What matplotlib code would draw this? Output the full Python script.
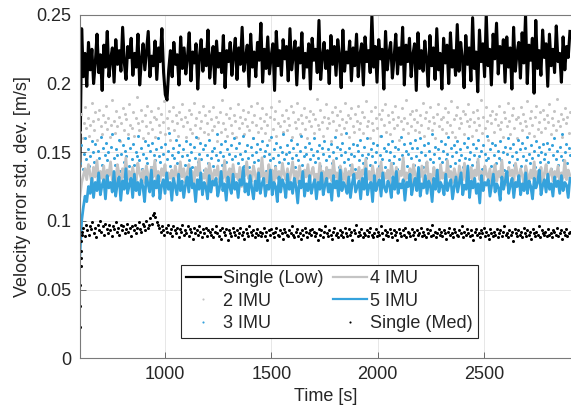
import numpy as np
import matplotlib
matplotlib.use('Agg')
import matplotlib.pyplot as plt
from matplotlib.ticker import FormatStrFormatter

# values in units of 1e-3 m/s
t_start, t_end = 600, 2905

single_low = [140, 240, 205, 222, 198, 230, 210, 225, 200, 215, 236, 208, 221, 195, 228, 212, 238, 205, 218, 226,
              201, 232, 214, 224, 209, 241, 215, 203, 227, 219, 233, 206, 222, 212, 236, 199, 217, 229, 210, 224,
              238, 205, 220, 213, 231, 203, 226, 216, 240, 208,
              192, 188, 210, 224, 205, 230, 214, 221, 199, 234, 211, 226, 207, 219, 237, 202, 223, 215, 229, 196,
              220, 232, 209, 225, 213, 239, 204, 218, 227, 200, 231, 212, 222, 208, 235, 197, 224, 216, 230, 206,
              221, 233, 203, 226, 214, 241, 209, 219, 228, 198, 236, 212, 223, 205, 230, 217, 244, 201, 225, 211,
              234, 207, 220, 229, 195, 238, 213, 224, 206, 232, 218, 227, 202, 240, 210, 221, 231, 199, 226, 215,
              237, 204, 222, 212, 229, 196, 233, 217, 225, 208, 246, 203, 219, 230, 211, 224, 200, 235, 214, 227,
              206, 232, 220, 197, 239, 209, 223, 215, 231, 202, 226, 213, 236, 205, 221, 229, 199, 234, 216, 224,
              208, 250, 212, 227, 201, 232, 218, 225, 196, 238, 210, 222, 230, 204, 219, 236, 207, 226, 214, 241,
              199, 228, 216, 233, 205, 221, 229, 195, 237, 211, 224, 209, 231, 217, 198, 235, 213, 226, 203, 240,
              210, 222, 196, 233, 215, 228, 200, 237, 212, 224, 206, 243, 209, 230, 218, 197, 235, 214, 226, 202,
              248, 211, 223, 194, 239, 216, 229, 205, 250, 213, 225, 199, 236, 218, 244, 207, 227, 215, 232, 201,
              234, 212, 226, 196, 241, 209, 222, 230, 204, 237, 215, 250, 200, 228, 217, 233, 193, 246, 211, 224,
              206, 239, 219, 229, 198, 236, 213, 225, 208, 242, 216, 222, 201, 234, 210, 227, 219, 238]

imu2 = [165, 178, 160, 171, 183, 168, 175, 162, 170, 186, 173, 166, 179, 159, 174, 181, 169, 163, 177, 172,
        184, 167, 175, 161, 170, 188, 173, 164, 180, 169, 176, 158, 171, 182, 166, 178, 174, 163, 185, 170,
        168, 179, 162, 175, 190, 171, 166, 181, 173, 160, 177, 169, 184, 164, 172, 180, 167, 176, 161, 174,
        182, 170, 165, 178, 172, 187, 163, 175, 168, 180, 159, 173, 183, 166, 177, 171, 162, 179, 174, 185,
        169, 176, 161, 172, 181, 167, 178, 164, 186, 170, 175, 160, 179, 168, 173, 184, 165, 177, 171, 163,
        180, 174, 166, 183, 169, 176, 158, 172, 179, 165, 188, 171, 167, 178, 162, 175, 182, 170, 164, 177,
        173, 161, 185, 168, 176, 171, 181, 163, 174, 169, 179, 166, 184, 172, 160, 177, 170, 186, 165, 175,
        168, 182, 173, 164, 178, 170, 159, 176, 183, 167, 174, 180, 162, 171, 187, 169, 177, 165, 173, 181,
        166, 175, 170, 184, 161, 179, 172, 168, 186, 174, 163, 177, 171, 182, 167, 176, 160, 173, 180, 169,
        178, 164, 174, 189, 170, 167, 181, 172, 162, 176, 185, 168, 175, 171, 158, 179, 173, 183, 166, 177,
        170, 180, 163, 174, 168, 186, 172, 177, 161, 175, 182, 169, 165, 178, 173, 184, 167, 171, 179, 164,
        176, 187, 169, 173, 160, 180, 171, 166, 183, 175, 168, 178, 162, 174, 181, 170, 185, 165, 177, 172,
        163, 179, 174, 168, 184, 170, 176, 159, 173, 182, 167, 175, 188, 171, 164, 178, 169, 180, 174, 166,
        181, 172, 165, 177, 170, 186, 162, 175, 179, 168, 173, 183, 166, 176, 171, 160, 178, 185, 169, 174,
        167, 176, 182, 164, 172, 179, 170, 187, 165, 174, 161, 177, 183, 168, 175, 171, 180, 163, 178, 173,
        185, 169, 174, 162, 179, 172, 166, 181, 175, 170, 188, 164, 176, 168, 183, 173, 159, 177, 171, 180,
        165, 174, 178, 170, 184, 167, 172, 161, 179, 175, 169, 186, 173, 163, 177, 182, 168, 174, 160, 176,
        171, 183, 166, 178, 173, 169, 187, 164, 175, 180, 170, 162, 176, 184, 167, 172, 179, 165, 181, 174,
        168, 177, 172, 185, 163, 175, 170, 180, 166, 189, 173, 169, 178, 161, 174, 182, 171, 176, 164, 179]

imu3 = [142, 155, 138, 149, 160, 145, 152, 140, 147, 158, 150, 143, 156, 137, 151, 146, 161, 141, 153, 148,
        157, 144, 150, 139, 154, 163, 146, 141, 152, 148, 159, 136, 149, 155, 143, 151, 147, 160, 140, 153,
        145, 156, 141, 150, 147, 162, 144, 153, 138, 149, 158, 146, 142, 155, 151, 139, 157, 148, 144, 152,
        160, 147, 143, 154, 149, 137, 156, 145, 151, 164, 140, 148, 153, 146, 159, 142, 150, 155, 138, 147,
        152, 141, 158, 148, 144, 156, 150, 139, 154, 146, 161, 143, 149, 157, 145, 152, 137, 155, 148, 142,
        159, 146, 151, 140, 153, 148, 163, 144, 150, 156, 141, 147, 158, 143, 152, 149, 138, 155, 145, 160,
        147, 153, 142, 157, 149, 145, 162, 140, 151, 155, 146, 139, 154, 148, 160, 143, 150, 156, 144, 152,
        141, 158, 147, 151, 136, 155, 149, 144, 161, 146, 152, 140, 157, 148, 143, 154, 150, 163, 145, 149,
        155, 142, 150, 159, 146, 153, 139, 148, 156, 144, 151, 162, 141, 147, 154, 149, 138, 157, 145, 152,
        148, 160, 143, 151, 146, 155, 140, 153, 149, 158, 144, 137, 152, 147, 156, 142, 150, 161, 146, 154,
        139, 152, 148, 157, 143, 150, 164, 145, 153, 141, 149, 156, 147, 138, 155, 151, 144, 159, 148, 142,
        154, 146, 160, 149, 141, 152, 147, 157, 143, 150, 155, 140, 148, 162, 145, 153, 139, 151, 156, 144,
        150, 158, 142, 147, 154, 138, 152, 145, 161, 148, 143, 156, 151, 140, 149, 157, 146, 153, 141, 159,
        147, 153, 144, 160, 150, 139, 155, 148, 142, 157, 151, 145, 163, 143, 149, 154, 137, 152, 146, 158,
        143, 151, 156, 145, 149, 161, 140, 153, 147, 155, 142, 150, 158, 144, 152, 148, 139, 157, 146, 154,
        160, 145, 150, 141, 156, 148, 153, 143, 159, 147, 151, 138, 155, 149, 144, 162, 146, 152, 140, 157,
        148, 155, 142, 151, 146, 158, 144, 150, 137, 154, 149, 160, 143, 153, 147, 156, 141, 150, 145, 159,
        152, 140, 157, 147, 153, 144, 161, 149, 142, 155, 146, 151, 139, 158, 148, 154, 143, 150, 156, 145,
        149, 157, 143, 152, 138, 155, 148, 160, 145, 151, 141, 154, 147, 163, 144, 150, 156, 142, 153, 148]

imu4 = [118, 128, 133, 138, 130, 141, 134, 127, 139, 132, 144, 129, 136, 131, 140, 126, 137, 133, 143, 130,
        135, 128, 141, 134, 125, 138, 132, 146, 130, 136, 129, 139, 133, 127, 142, 135, 131, 137, 128, 140,
        134, 126, 139, 132, 144, 130, 136, 129, 138, 133, 141, 127, 135, 131, 137, 125, 140, 134, 130, 143,
        132, 138, 128, 135, 141, 130, 136, 127, 139, 133, 145, 129, 134, 131, 138, 126, 142, 135, 130, 137,
        133, 140, 128, 136, 131, 144, 129, 135, 138, 127, 141, 132, 134, 130, 139, 125, 137, 133, 143, 131,
        136, 129, 140, 134, 127, 138, 132, 146, 130, 135, 128, 141, 133, 137, 126, 139, 131, 136, 129, 142,
        134, 130, 138, 127, 135, 143, 131, 136, 128, 140, 133, 125, 137, 132, 141, 129, 135, 139, 130, 134,
        128, 142, 133, 136, 126, 139, 131, 137, 129, 144, 132, 135, 127, 140, 134, 130, 138, 125, 136, 133,
        141, 129, 135, 131, 139, 127, 137, 134, 145, 130, 136, 128, 140, 133, 126, 138, 132, 143, 129, 135,
        131, 137, 127, 142, 134, 130, 139, 128, 136, 133, 146, 129, 135, 131, 138, 126, 141, 134, 130, 137,
        132, 140, 128, 136, 143, 130, 134, 127, 139, 133, 137, 125, 141, 131, 135, 129, 144, 132, 136, 128,
        138, 133, 126, 140, 134, 130, 142, 129, 135, 131, 139, 127, 137, 133, 145, 130, 136, 128, 140, 134,
        131, 138, 127, 135, 141, 129, 136, 132, 144, 130, 134, 126, 139, 133, 137, 128, 142, 135, 130, 138,
        133, 127, 140, 134, 129, 137, 131, 143, 128, 136, 132, 139, 126, 135, 141, 130, 134, 138, 129, 136,
        132, 140, 128, 135, 131, 144, 130, 137, 133]

imu5 = [75, 100, 110, 118, 114, 125, 120, 131, 117, 128, 122, 135, 119, 126, 130, 116, 133, 124, 128, 121,
        136, 118, 127, 132, 115, 129, 123, 138, 120, 126, 131, 117, 134, 122, 128, 119, 130, 125, 114, 132,
        127, 121, 137, 118, 129, 124, 133, 116, 126, 130, 120, 135, 123, 128, 115, 131, 125, 119, 134, 122,
        129, 117, 126, 132, 121, 138, 124, 127, 114, 130, 123, 135, 119, 128, 125, 116, 133, 121, 129, 126,
        131, 118, 124, 136, 122, 127, 115, 132, 125, 120, 134, 123, 128, 117, 130, 126, 139, 121, 127, 119,
        133, 124, 116, 129, 122, 135, 120, 127, 131, 118, 126, 123, 137, 119, 128, 125, 114, 132, 121, 130,
        126, 117, 134, 123, 128, 120, 131, 125, 113, 129, 124, 136, 118, 127, 122, 133, 120, 126, 130, 116,
        128, 123, 135, 119, 126, 131, 121, 127, 115, 133, 124, 129, 118, 137, 122, 128, 125, 120, 132, 117,
        127, 134, 121, 125, 129, 116, 131, 123, 138, 119, 126, 128, 114, 133, 122, 127, 130, 118, 135, 124,
        121, 129, 126, 117, 132, 123, 136, 120, 127, 124, 130, 115, 128, 125, 134, 119, 126, 131, 122, 139,
        118, 127, 124, 133, 120, 129, 126, 114, 131, 123, 137, 121, 128, 125, 119, 134, 122, 127, 130, 116,
        125, 132, 121, 128, 135, 119, 126, 123, 140, 117, 129, 124, 131, 120, 127, 113, 133, 122, 128, 126,
        130, 118, 126, 134, 121, 127, 124, 115, 132, 123, 129, 136, 120, 126, 131, 117, 128, 125, 133, 119,
        127, 122, 135, 120, 129, 125, 116, 131, 124, 128, 137, 119, 126, 130, 121, 134, 123, 127, 118, 132,
        125, 129, 120, 133, 122, 128, 126, 117, 131]

# Single (Med): first samples converge quickly
med_head_t = [600, 601, 602, 603, 604, 605, 606, 608]
med_head = [23, 38, 53, 67, 73, 78, 85, 90]
med_t0 = 610
single_med = [92, 95, 89, 97, 93, 90, 96, 94, 99, 91, 95, 88, 97, 93, 100, 92, 96, 90, 98, 94,
              91, 97, 93, 89, 96, 94, 99, 92, 95, 90, 97, 93, 96, 91, 94, 98, 92, 95, 89, 96,
              93, 97, 91, 95, 99, 94, 92, 98, 96, 93, 100, 95, 97, 102, 98, 104, 106, 103, 99, 97,
              95, 92, 96, 93, 90, 95, 92, 97, 91, 94, 89, 96, 93, 91, 95, 88, 94, 92, 97, 90,
              93, 91, 96, 89, 94, 92, 87, 95, 91, 93, 90, 96, 92, 88, 94, 91, 95, 89, 93, 92,
              90, 94, 88, 92, 96, 91, 89, 93, 87, 95, 92, 90, 94, 86, 93, 91, 89, 95, 92, 90,
              93, 88, 91, 95, 90, 92, 87, 94, 91, 89, 96, 92, 90, 93, 88, 91, 94, 90, 92, 89,
              91, 95, 89, 92, 86, 93, 90, 94, 91, 88, 92, 95, 90, 89, 93, 91, 87, 94, 92, 90,
              89, 93, 91, 96, 90, 88, 92, 94, 89, 91, 87, 93, 90, 95, 92, 88, 91, 93, 90, 94,
              92, 89, 91, 86, 94, 90, 93, 88, 92, 96, 91, 89, 93, 90, 87, 92, 95, 90, 91, 88,
              93, 90, 92, 88, 95, 91, 89, 94, 90, 92, 86, 93, 91, 97, 89, 92, 90, 94, 88, 91,
              90, 93, 89, 92, 95, 90, 88, 91, 94, 89, 92, 90, 96, 91, 87, 93, 90, 92, 89, 94,
              91, 88, 93, 90, 92, 86, 94, 91, 89, 93, 90, 95, 88, 92, 91, 89, 94, 90, 92, 87,
              93, 90, 91, 95, 89, 92, 90, 88, 94, 91, 93, 89, 97, 90, 92, 88, 91, 94, 90, 92,
              89, 93, 91, 87, 92, 95, 90, 91, 88, 94, 92, 90, 89, 93, 91, 96, 88, 92, 90, 94,
              91, 89, 93, 90, 86, 92, 94, 90, 91, 88, 93, 91, 95, 89, 92, 90, 87, 94, 91, 89,
              92, 90, 94, 88, 91, 93, 89, 92, 96, 90, 91, 88, 93, 90, 92, 85, 94, 91, 89, 93,
              90, 92, 88, 95, 91, 89, 93, 90, 92, 87, 94, 91, 89, 92, 90, 96, 88, 93, 91, 90,
              92, 89, 94, 90, 91, 88, 93, 92, 90, 95, 89, 91, 93, 87, 92, 90, 94, 89, 91, 92]

y_ticks = [0, 0.05, 0.1, 0.15, 0.2, 0.25]
x_ticks = [1000, 1500, 2000, 2500]

blue = '#35a2dc'
grey = '#c4c4c4'
txt = '#262626'

plt.rcParams['font.family'] = ['Liberation Sans', 'DejaVu Sans']
plt.rcParams['font.size'] = 13

def tgrid(vals, a=t_start, b=t_end):
    return np.linspace(a, b, len(vals))

def scaled(vals):
    return np.asarray(vals) * 1e-3

fig = plt.figure(figsize=(5.71, 4.15), dpi=100)
ax = fig.add_axes([0.140, 0.137, 0.860, 0.827])

ax.plot(tgrid(single_low), scaled(single_low), color='black', lw=2.2, label='Single (Low)')
ax.plot(tgrid(imu2), scaled(imu2), ls='none', marker='.', ms=4.4, mew=0, color=grey, label='2 IMU')
ax.plot(tgrid(imu3), scaled(imu3), ls='none', marker='.', ms=4.4, mew=0, color=blue, label='3 IMU')
ax.plot(tgrid(imu4), scaled(imu4), color=grey, lw=2.0, label='4 IMU')
ax.plot(tgrid(imu5), scaled(imu5), color=blue, lw=2.0, label='5 IMU')
med_t = np.concatenate([med_head_t, tgrid(single_med, med_t0, t_end)])
ax.plot(med_t, scaled(med_head + single_med), ls='none', marker='.', ms=4.4, mew=0,
        color='black', label='Single (Med)')

ax.set_xlim(600, 2910)
ax.set_ylim(0, 0.25)
ax.set_xticks(x_ticks)
ax.set_yticks(y_ticks)
ax.yaxis.set_major_formatter(FormatStrFormatter('%g'))
ax.grid(True, color='#e3e3e3', lw=0.6)
ax.set_axisbelow(True)
ax.tick_params(direction='in', length=4, width=0.6, colors='#555555', labelcolor=txt, pad=6)
for s in ['left', 'bottom', 'top']:
    ax.spines[s].set_color('#7a7a7a')
    ax.spines[s].set_linewidth(0.8)
ax.spines['right'].set_visible(False)

ax.set_xlabel('Time [s]', color=txt, labelpad=3)
ax.set_ylabel('Velocity error std. dev. [m/s]', color=txt, labelpad=4)

leg = ax.legend(ncol=2, loc='center', bbox_to_anchor=(0.508, 0.166), fancybox=False,
                framealpha=1, edgecolor=txt, handlelength=1.9, handletextpad=0.15,
                columnspacing=0.5, labelspacing=0.3, borderpad=0.3, borderaxespad=0,
                markerscale=0.7)
leg.get_frame().set_linewidth(0.8)
for h in leg.get_lines():
    if h.get_linestyle() == '-':
        h.set_linewidth(1.6)
for t in leg.get_texts():
    t.set_color(txt)

fig.savefig('out.png', dpi=100)
